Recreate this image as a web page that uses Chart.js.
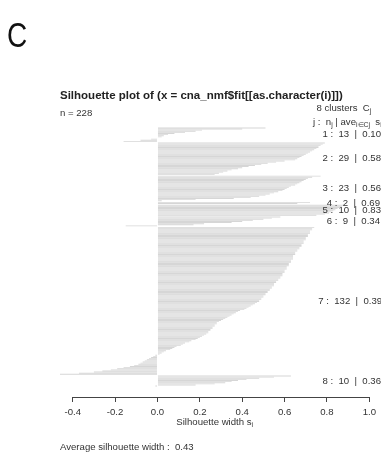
<!DOCTYPE html>
<html>
<head>
<meta charset="utf-8">
<script src="https://cdn.jsdelivr.net/npm/chart.js@4.4.0/dist/chart.umd.min.js"></script>
<style>
  html, body { margin: 0; padding: 0; background: #fff; }
  #wrap { width: 381px; height: 459px; }
</style>
</head>
<body>
<div id="wrap"><canvas id="sil" width="381" height="459"></canvas></div>
<script>
// silhouette widths per cluster, sorted as in the plot (top to bottom)
const cluster1Widths = [0.51, 0.40, 0.21, 0.18, 0.13, 0.08, 0.05, 0.03, 0.02, 0.00, -0.03, -0.08, -0.16];
const cluster2Widths = [0.79, 0.78, 0.77, 0.76, 0.76, 0.75, 0.74, 0.73, 0.72, 0.71, 0.70, 0.69, 0.68, 0.67, 0.66, 0.65,
    0.60, 0.56, 0.52, 0.49, 0.46, 0.43, 0.40, 0.38, 0.35, 0.33, 0.31, 0.29, 0.27];
const cluster3Widths = [0.77, 0.73, 0.71, 0.70, 0.69, 0.68, 0.67, 0.66, 0.65, 0.63, 0.62, 0.61, 0.60, 0.59, 0.57, 0.55,
    0.53, 0.51, 0.48, 0.44, 0.36, 0.18, 0.02];
const cluster4Widths = [0.72, 0.66];
const cluster5Widths = [0.88, 0.87, 0.86, 0.85, 0.84, 0.83, 0.82, 0.81, 0.79, 0.75];
const cluster6Widths = [0.58, 0.54, 0.50, 0.45, 0.40, 0.35, 0.22, 0.17, -0.15];
const cluster7Widths = [
    0.74, 0.73, 0.73, 0.72, 0.72, 0.72, 0.71, 0.71, 0.71, 0.70, 0.70,
    0.70, 0.69, 0.69, 0.69, 0.68, 0.68, 0.68, 0.67, 0.67, 0.66, 0.66,
    0.65, 0.65, 0.65, 0.64, 0.64, 0.64, 0.64, 0.63, 0.63, 0.63, 0.62, 0.62, 0.62,
    0.61, 0.61, 0.61, 0.60, 0.60, 0.60, 0.59, 0.59, 0.59,
    0.58, 0.58, 0.57, 0.57, 0.56,
    0.56, 0.55, 0.55, 0.55, 0.54, 0.54,
    0.53, 0.53, 0.52, 0.52, 0.51, 0.51,
    0.50, 0.50, 0.49, 0.49, 0.48, 0.48,
    0.47, 0.46, 0.45, 0.44, 0.43, 0.42,
    0.41, 0.39, 0.38, 0.37,
    0.36, 0.35, 0.34, 0.33, 0.32,
    0.31, 0.30, 0.29, 0.28,
    0.28, 0.27, 0.27, 0.26, 0.26, 0.25, 0.25, 0.24, 0.24,
    0.23, 0.22, 0.21, 0.20, 0.19,
    0.18, 0.16, 0.15, 0.13,
    0.12, 0.11, 0.09, 0.08, 0.07,
    0.06, 0.04, 0.03, 0.02, 0.01,
    -0.01, -0.02, -0.03, -0.04, -0.05, -0.06, -0.07, -0.08, -0.09,
    -0.11, -0.13, -0.16, -0.19, -0.22, -0.26, -0.30, -0.37, -0.46
];
const cluster8Widths = [0.63, 0.55, 0.48, 0.42, 0.38, 0.35, 0.32, 0.27, 0.18, -0.01];

const clusterWidths = [cluster1Widths, cluster2Widths, cluster3Widths, cluster4Widths,
    cluster5Widths, cluster6Widths, cluster7Widths, cluster8Widths];
const clusterIds = ['1', '2', '3', '4', '5', '6', '7', '8'];
const clusterAvgLabels = ['0.10', '0.58', '0.56', '0.69', '0.83', '0.34', '0.39', '0.36'];
const overallAvgLabel = '0.43';
const xTickValues = [-0.4, -0.2, 0.0, 0.2, 0.4, 0.6, 0.8, 1.0];
const titleText = 'Silhouette plot of (x = cna_nmf$fit[[as.character(i)]])';

const CLUSTER_GAP = 0.5;   // same gap R's plot.silhouette puts between clusters
const FONT = '"Liberation Sans", Arial, Helvetica, sans-serif';

// bar positions along the (reversed) index axis
const points = [];
const clusterCenters = [];
let pos = 0;
clusterWidths.forEach((vals, c) => {
    if (c > 0) pos += CLUSTER_GAP;
    const start = pos;
    vals.forEach(v => {
        points.push({ x: v, y: pos + 0.5 });
        pos += 1;
    });
    clusterCenters.push((start + pos) / 2);
});
const totalHeight = pos;
const nTotal = points.length;
const xMin = Math.min(0, ...points.map(p => p.x));

function font(size, bold) {
    return (bold ? 'bold ' : '') + size + 'px ' + FONT;
}

// draws text pieces, some of them as subscripts
function drawRich(ctx, parts, x, y, size, align) {
    let total = 0;
    parts.forEach(p => {
        ctx.font = font(p.sub ? size * 0.72 : size, p.bold);
        p.w = ctx.measureText(p.t).width;
        total += p.w;
    });
    let cx = x;
    if (align === 'right') cx = x - total;
    if (align === 'center') cx = x - total / 2;
    parts.forEach(p => {
        ctx.font = font(p.sub ? size * 0.72 : size, p.bold);
        ctx.fillText(p.t, cx, p.sub ? y + size * 0.32 : y);
        cx += p.w;
    });
    return total;
}

const annotations = {
    id: 'annotations',
    afterDraw(chart) {
        const ctx = chart.ctx;
        const xs = chart.scales.x;
        const ys = chart.scales.y;
        const area = chart.chartArea;
        ctx.save();

        // axis line only between first and last tick, like R
        ctx.strokeStyle = '#444';
        ctx.lineWidth = 1;
        ctx.beginPath();
        ctx.moveTo(xs.getPixelForValue(xTickValues[0]), area.bottom + 0.5);
        ctx.lineTo(xs.getPixelForValue(xTickValues[xTickValues.length - 1]), area.bottom + 0.5);
        ctx.stroke();

        ctx.fillStyle = '#111';
        ctx.textBaseline = 'middle';
        ctx.textAlign = 'left';

        // panel letter, a bit narrower than plain Liberation Sans
        ctx.save();
        ctx.translate(7, 37);
        ctx.scale(0.8, 1);
        ctx.font = '35px ' + FONT;
        ctx.fillText('C', 0, 0);
        ctx.restore();

        ctx.fillStyle = '#222';
        ctx.font = font(11.5, true);
        ctx.fillText(titleText, area.left, 96);

        ctx.fillStyle = '#333';
        ctx.font = font(9.6);
        ctx.fillText('n = ' + nTotal, area.left, 113);

        drawRich(ctx, [{ t: clusterWidths.length + ' clusters  C' }, { t: 'j', sub: true }],
            xs.getPixelForValue(1) + 2, 108, 9.6, 'right');

        const plotW = area.right - area.left;
        drawRich(ctx, [
            { t: 'j :  n' }, { t: 'j', sub: true }, { t: ' | ave' }, { t: 'i\u2208Cj', sub: true },
            { t: '  s' }, { t: 'i', sub: true }
        ], area.right + 0.04 * plotW, 122, 9.6, 'right');

        ctx.font = font(9.6);
        clusterWidths.forEach((vals, c) => {
            const label = clusterIds[c] + ' :  ' + vals.length + '  |  ' + clusterAvgLabels[c];
            const w = ctx.measureText(label).width;
            ctx.fillText(label, xs.getPixelForValue(1) - 0.8 * w, ys.getPixelForValue(clusterCenters[c]));
        });

        drawRich(ctx, [{ t: 'Silhouette width s' }, { t: 'i', sub: true }],
            (area.left + area.right) / 2, 422, 9.6, 'center');

        ctx.font = font(9.6);
        ctx.fillText('Average silhouette width :  ' + overallAvgLabel, area.left, 447);

        ctx.restore();
    }
};

new Chart(document.getElementById('sil'), {
    type: 'bar',
    data: {
        datasets: [{
            data: points,
            backgroundColor: '#d6d6d6',
            borderWidth: 0,
            barPercentage: 0.8,
            categoryPercentage: 1
        }]
    },
    options: {
        indexAxis: 'y',
        responsive: false,
        animation: false,
        layout: { padding: { left: 60, right: 10, top: 117, bottom: 0 } },
        plugins: {
            legend: { display: false },
            tooltip: { enabled: false }
        },
        scales: {
            x: {
                type: 'linear',
                min: xMin,
                max: 1,
                afterBuildTicks: scale => {
                    scale.ticks = xTickValues.map(v => ({ value: v }));
                },
                afterFit: scale => { scale.height = 62; },
                border: { display: false },
                grid: {
                    drawOnChartArea: false,
                    drawTicks: true,
                    tickLength: 5,
                    color: '#444',
                    lineWidth: 1
                },
                ticks: {
                    font: { family: FONT, size: 9.6 },
                    color: '#333',
                    padding: 5,
                    maxRotation: 0,
                    autoSkip: false,
                    callback: v => v.toFixed(1)
                }
            },
            y: {
                type: 'linear',
                display: false,
                reverse: true,
                offset: false,
                min: -0.04 * totalHeight,
                max: totalHeight * 1.04,
                afterBuildTicks: scale => {
                    scale.ticks = [{ value: scale.min }, { value: scale.max }];
                }
            }
        }
    },
    plugins: [annotations]
});
</script>
</body>
</html>
